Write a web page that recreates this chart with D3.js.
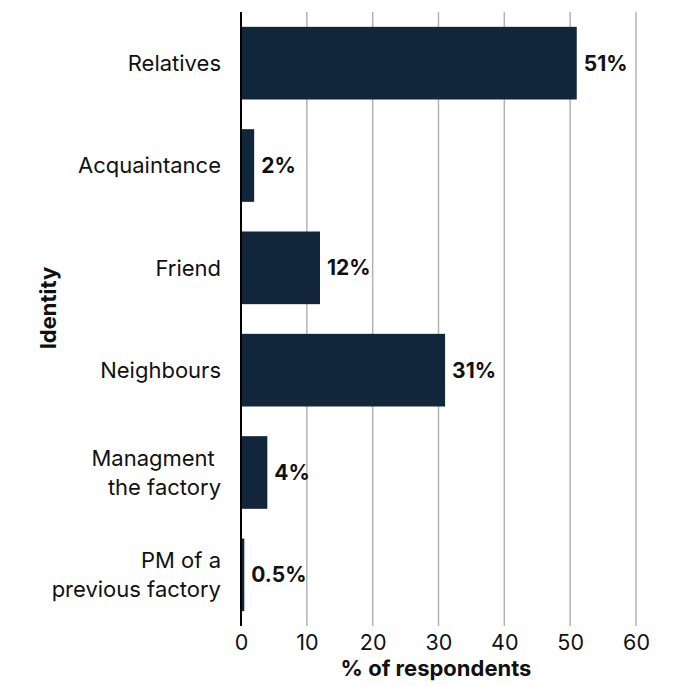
<!DOCTYPE html>
<html><head><meta charset="utf-8">
<script src="https://cdn.jsdelivr.net/npm/d3@7"></script>
<style>body{margin:0;background:#fff}svg{display:block}text{font-family:Inter,"Open Sans",sans-serif}</style>
</head><body>
<svg id="c" width="685" height="686"></svg>
<script>
const categories = [["Relatives"],["Acquaintance"],["Friend"],["Neighbours"],["Managment ","the factory"],["PM of a","previous factory"]];
const values = [51, 2, 12, 31, 4, 0.5];
const valueLabels = ["51%","2%","12%","31%","4%","0.5%"];
const xTicks = [0,10,20,30,40,50,60];

const svg = d3.select("#c");
const x = d3.scaleLinear().domain([0,60]).range([241,636]);
const y = d3.scaleBand().domain(d3.range(categories.length)).range([12,626]).paddingInner(0.29).paddingOuter(0.145);

// gridlines
svg.append("g").selectAll("line").data(xTicks.filter(d=>d>0)).join("line")
  .attr("x1",d=>x(d)).attr("x2",d=>x(d)).attr("y1",12).attr("y2",626)
  .attr("stroke","#b3b3b3").attr("stroke-width",1.5);

// bars
svg.append("g").selectAll("rect").data(values).join("rect")
  .attr("x",x(0)).attr("y",(d,i)=>y(i)).attr("width",d=>x(d)-x(0)).attr("height",y.bandwidth())
  .attr("fill","#12263b");

// axis line
svg.append("line").attr("x1",x(0)).attr("x2",x(0)).attr("y1",12).attr("y2",626)
  .attr("stroke","#000").attr("stroke-width",2);

// x axis
const xAxis = svg.append("g").attr("transform","translate(0,626)")
  .call(d3.axisBottom(x).tickValues(xTicks).tickSize(0).tickPadding(7));
xAxis.select(".domain").remove();
xAxis.selectAll("text").attr("font-size",21.5).attr("fill","#111").attr("font-family","Inter, sans-serif").attr("dy","0.8em");

// category labels
const cl = svg.append("g").selectAll("text").data(categories).join("text")
  .attr("x",221).attr("text-anchor","end").attr("font-size",22).attr("fill","#111")
  .attr("y",(d,i)=>y(i)+y.bandwidth()/2);
cl.each(function(d){
  const t=d3.select(this);
  d.forEach((line,k)=>{
    t.append("tspan").attr("x",221).attr("dy", k===0 ? (d.length===1?"0.35em":"-0.3em") : "1.32em").text(line);
  });
});

// value labels
svg.append("g").selectAll("text").data(values).join("text")
  .attr("x",d=>x(d)+7).attr("y",(d,i)=>y(i)+y.bandwidth()/2).attr("dy","0.35em")
  .attr("font-size",21).attr("font-weight",700).attr("fill","#111")
  .text((d,i)=>valueLabels[i]);

// axis titles
svg.append("text").attr("x",436).attr("y",676).attr("text-anchor","middle")
  .attr("font-size",22).attr("font-weight",700).attr("fill","#111").text("% of respondents");
svg.append("text").attr("transform","translate(56,"+308+") rotate(-90)").attr("text-anchor","middle")
  .attr("font-size",22).attr("font-weight",700).attr("fill","#111").text("Identity");
</script>
</body></html>
